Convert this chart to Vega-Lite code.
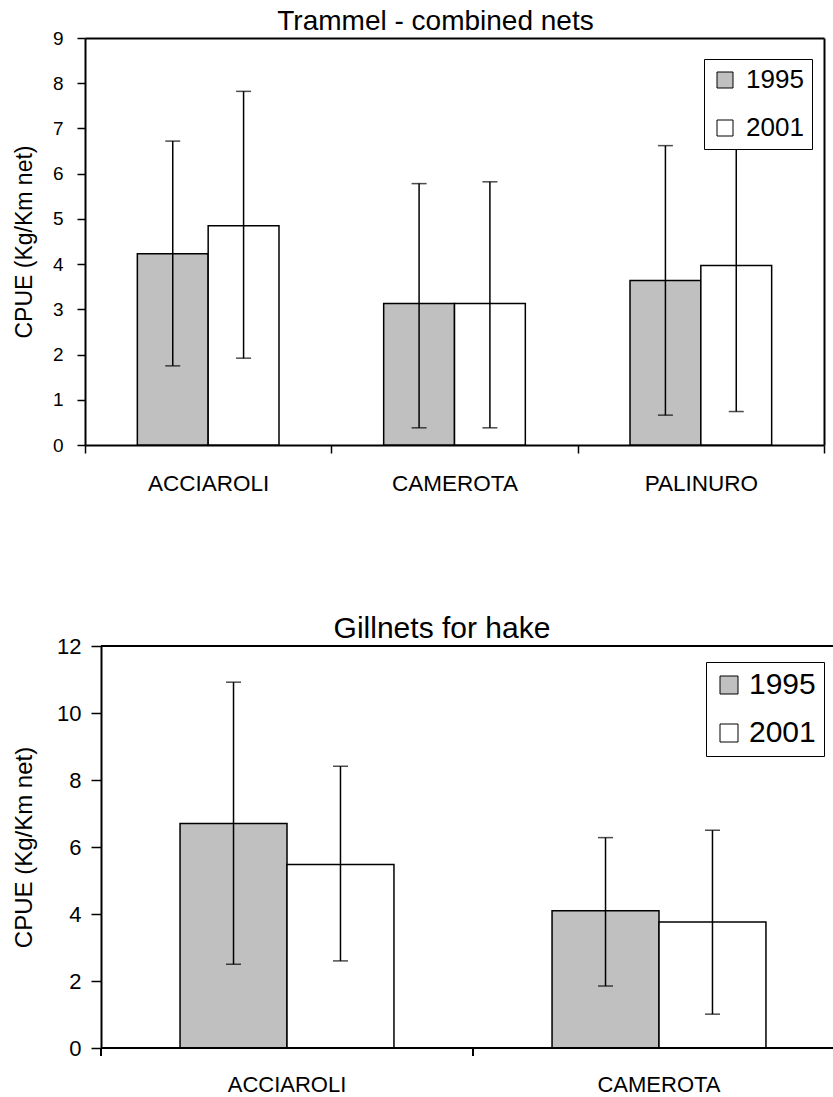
{
  "$schema": "https://vega.github.io/schema/vega-lite/v6.json",
  "padding": {"left": 12, "top": 8, "right": 0, "bottom": 0},
  "spacing": 119,
  "config": {
    "font": "Liberation Sans",
    "view": {"stroke": null},
    "axis": {"domainColor": "black", "domainWidth": 2, "tickColor": "black", "tickWidth": 1.5, "tickSize": 8, "labelColor": "black", "titleColor": "black", "grid": false, "labelFont": "Liberation Sans", "titleFont": "Liberation Sans", "titleFontWeight": "normal"},
    "title": {"color": "black", "fontWeight": "normal", "font": "Liberation Sans"},
    "legend": {"labelFont": "Liberation Sans", "labelColor": "black"}
  },
  "resolve": {"scale": {"fill": "independent", "x": "independent", "y": "independent", "xOffset": "independent"}, "legend": {"fill": "independent"}},
  "vconcat": [
    {
      "title": {"text": "Trammel - combined nets", "fontSize": 28, "anchor": "middle", "frame": "group", "dx": -27, "baseline": "alphabetic", "offset": -26, "dy": 3},
      "width": 723,
      "height": 407,
      "data": {"values": [
        {"site": "ACCIAROLI", "year": "1995", "cpue": 4.23, "lo": 1.75, "hi": 6.72},
        {"site": "ACCIAROLI", "year": "2001", "cpue": 4.85, "lo": 1.92, "hi": 7.82},
        {"site": "CAMEROTA", "year": "1995", "cpue": 3.13, "lo": 0.38, "hi": 5.78},
        {"site": "CAMEROTA", "year": "2001", "cpue": 3.13, "lo": 0.38, "hi": 5.82},
        {"site": "PALINURO", "year": "1995", "cpue": 3.64, "lo": 0.66, "hi": 6.62},
        {"site": "PALINURO", "year": "2001", "cpue": 3.97, "lo": 0.74, "hi": 7.2}
      ]},
      "resolve": {"scale": {"x": "independent", "y": "independent"}},
      "layer": [
        {
          "encoding": {
            "x": {"field": "site", "type": "nominal", "sort": ["ACCIAROLI", "CAMEROTA", "PALINURO"], "scale": {"paddingInner": 0, "paddingOuter": 0, "range": [-16, 723]},
              "axis": {"title": null, "labelAngle": 0, "labelFontSize": 22.5, "labelPadding": 19, "tickBand": "extent"}},
            "xOffset": {"field": "year", "type": "nominal", "sort": ["1995", "2001"], "scale": {"paddingInner": 0, "paddingOuter": 0.739}}
          },
          "layer": [
            {
              "mark": {"type": "bar", "stroke": "black", "strokeWidth": 1.5},
              "encoding": {
                "y": {"field": "cpue", "type": "quantitative", "scale": {"domain": [0, 9], "nice": false},
                  "axis": {"title": "CPUE (Kg/Km net)", "offset": 16, "titleFontSize": 23, "labelFontSize": 19, "labelPadding": 14, "titlePadding": 16, "values": [0, 1, 2, 3, 4, 5, 6, 7, 8, 9]}},
                "fill": {"field": "year", "type": "nominal", "scale": {"domain": ["1995", "2001"], "range": ["#c0c0c0", "#ffffff"]},
                  "legend": {"orient": "none", "legendX": 603, "legendY": 21, "title": null, "labelFontSize": 26, "symbolType": "square", "symbolSize": 256, "rowPadding": 22, "padding": 8, "strokeColor": "black", "fillColor": "white", "labelOffset": 8, "zindex": 1, "symbolStrokeColor": "black", "symbolStrokeWidth": 1}}
              }
            },
            {
              "mark": {"type": "rule", "color": "black", "strokeWidth": 1.5},
              "encoding": {"y": {"field": "lo", "type": "quantitative"}, "y2": {"field": "hi"}}
            },
            {
              "mark": {"type": "tick", "orient": "horizontal", "color": "black", "size": 15, "thickness": 1.5},
              "encoding": {"y": {"field": "hi", "type": "quantitative"}}
            },
            {
              "mark": {"type": "tick", "orient": "horizontal", "color": "black", "size": 15, "thickness": 1.5},
              "encoding": {"y": {"field": "lo", "type": "quantitative"}}
            }
          ]
        },
        {
          "mark": {"type": "rule", "opacity": 0},
          "encoding": {
            "x": {"field": "site", "type": "nominal", "sort": ["ACCIAROLI", "CAMEROTA", "PALINURO"], "scale": {"paddingInner": 0, "paddingOuter": 0, "range": [-16, 723]},
              "axis": {"orient": "top", "title": null, "labels": false, "ticks": false, "domain": true, "domainWidth": 2}},
            "y": {"field": "cpue", "type": "quantitative", "scale": {"domain": [0, 9], "nice": false},
              "axis": {"orient": "right", "title": null, "labels": false, "ticks": false, "domain": true, "domainWidth": 2}}
          }
        }
      ]
    },
    {
      "title": {"text": "Gillnets for hake", "fontSize": 30, "anchor": "middle", "frame": "group", "dx": -25, "baseline": "alphabetic", "offset": -29, "dy": 4},
      "width": 732,
      "height": 402,
      "data": {"values": [
        {"site": "ACCIAROLI", "year": "1995", "cpue": 6.7, "lo": 2.5, "hi": 10.92},
        {"site": "ACCIAROLI", "year": "2001", "cpue": 5.48, "lo": 2.6, "hi": 8.41},
        {"site": "CAMEROTA", "year": "1995", "cpue": 4.1, "lo": 1.85, "hi": 6.28},
        {"site": "CAMEROTA", "year": "2001", "cpue": 3.76, "lo": 1.01, "hi": 6.5}
      ]},
      "encoding": {
        "x": {"field": "site", "type": "nominal", "sort": ["ACCIAROLI", "CAMEROTA"], "scale": {"paddingInner": 0, "paddingOuter": 0, "range": [0, 744]},
          "axis": {"title": null, "labelAngle": 0, "labelFontSize": 22, "labelPadding": 18, "domain": false, "tickOpacity": 0}}
      },
      "layer": [
        {
          "mark": {"type": "bar", "stroke": "black", "strokeWidth": 1.5},
          "encoding": {
            "xOffset": {"field": "year", "type": "nominal", "sort": ["1995", "2001"], "scale": {"paddingInner": 0, "paddingOuter": 0.739}},
            "y": {"field": "cpue", "type": "quantitative", "scale": {"domain": [0, 12], "nice": false},
              "axis": {"title": "CPUE (Kg/Km net)", "titleFontSize": 24, "labelFontSize": 22, "labelPadding": 10, "tickSize": 10, "titlePadding": 20, "values": [0, 2, 4, 6, 8, 10, 12]}},
            "fill": {"field": "year", "type": "nominal", "scale": {"domain": ["1995", "2001"], "range": ["#c0c0c0", "#ffffff"]},
              "legend": {"orient": "none", "legendX": 605, "legendY": 16, "title": null, "labelFontSize": 30, "symbolType": "square", "symbolSize": 324, "rowPadding": 18, "padding": 8, "strokeColor": "black", "fillColor": "white", "labelOffset": 5, "zindex": 1, "symbolStrokeColor": "black", "symbolStrokeWidth": 1}}
          }
        },
        {
          "mark": {"type": "rule", "color": "black", "strokeWidth": 1.5},
          "encoding": {
            "xOffset": {"field": "year", "type": "nominal", "sort": ["1995", "2001"]},
            "y": {"field": "lo", "type": "quantitative"}, "y2": {"field": "hi"}}
        },
        {
          "mark": {"type": "tick", "orient": "horizontal", "color": "black", "size": 15, "thickness": 1.5},
          "encoding": {"xOffset": {"field": "year", "type": "nominal", "sort": ["1995", "2001"]}, "y": {"field": "hi", "type": "quantitative"}}
        },
        {
          "mark": {"type": "tick", "orient": "horizontal", "color": "black", "size": 15, "thickness": 1.5},
          "encoding": {"xOffset": {"field": "year", "type": "nominal", "sort": ["1995", "2001"]}, "y": {"field": "lo", "type": "quantitative"}}
        },
        {
          "mark": {"type": "rule", "color": "black", "strokeWidth": 2},
          "encoding": {"x": {"field": "site", "type": "nominal", "bandPosition": 0}, "y": {"datum": 0}, "y2": {"datum": -0.24}}
        },
        {
          "mark": {"type": "rule", "color": "black", "strokeWidth": 2},
          "encoding": {"x": null, "y": {"datum": 0}}
        },
        {
          "mark": {"type": "rule", "color": "black", "strokeWidth": 2},
          "encoding": {"x": null, "y": {"datum": 12}}
        }
      ]
    }
  ]
}
